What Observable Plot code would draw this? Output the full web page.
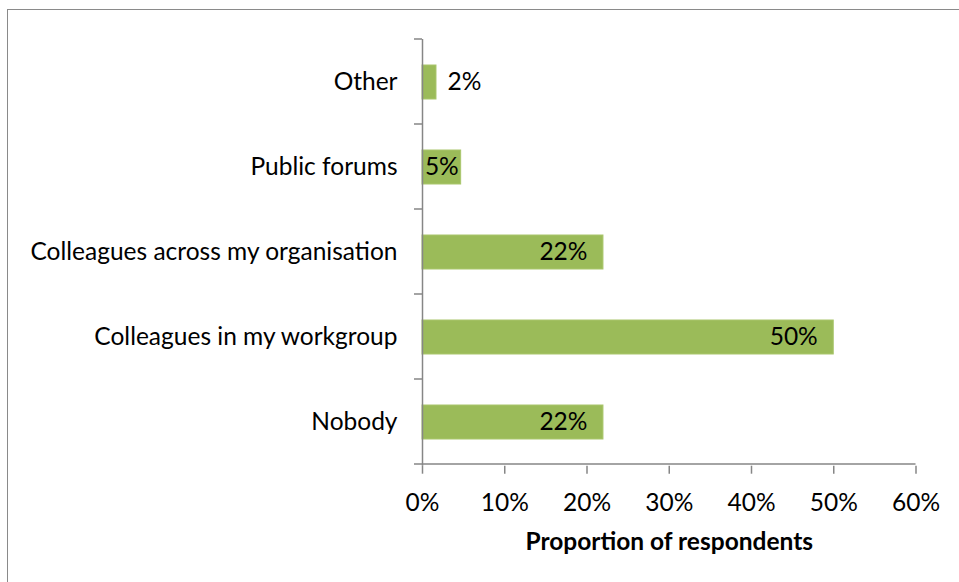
<!DOCTYPE html>
<html>
<head>
<meta charset="utf-8">
<script src="https://cdn.jsdelivr.net/npm/d3@7"></script>
<script src="https://cdn.jsdelivr.net/npm/@observablehq/plot@0.6"></script>
<style>
  html, body { margin: 0; padding: 0; background: #fff; overflow: hidden; }
  #wrap { position: relative; width: 959px; height: 582px; }
  #frame { position: absolute; left: 7px; top: 9px; width: 2000px; height: 2000px;
           border: 1.5px solid #8a8a8a; pointer-events: none; box-sizing: border-box; }
  svg { display: block; }
</style>
</head>
<body>
<div id="wrap"><div id="frame"></div></div>
<script>
const categories = ["Other", "Public forums", "Colleagues across my organisation", "Colleagues in my workgroup", "Nobody"];
const values = [0.017, 0.047, 0.22, 0.50, 0.22];
const xTicks = [0, 0.1, 0.2, 0.3, 0.4, 0.5, 0.6];
const xLabel = "Proportion of respondents";

const data = categories.map((c, i) => ({category: c, value: values[i]}));
const pct = v => Math.round(v * 100) + "%";
const FONT = "Lato, 'Open Sans', sans-serif";
const FS = 24.5;

function bandTicks(index, scales, channels, dims) {
  const y = scales.y, x = scales.x;
  const step = y(categories[1]) - y(categories[0]);
  const top = dims.marginTop;
  const g = d3.create("svg:g").attr("stroke", "#868686").attr("stroke-width", 1.5);
  const x0 = x(0);
  for (let i = 0; i <= categories.length; i++) {
    const yy = top + i * step;
    g.append("line").attr("x1", x0 - 8).attr("x2", x0).attr("y1", yy).attr("y2", yy);
  }
  const yb = top + categories.length * step;
  g.append("line").attr("x1", x0).attr("x2", x(xTicks[xTicks.length - 1])).attr("y1", yb).attr("y2", yb);
  return g.node();
}

const chart = Plot.plot({
  width: 959,
  height: 582,
  marginLeft: 422,
  marginRight: 43.5,
  marginTop: 39,
  marginBottom: 116.3,
  style: {fontFamily: FONT, fontSize: FS + "px", color: "#000", background: "transparent"},
  x: {domain: [0, 0.6], ticks: xTicks, tickFormat: pct, label: null},
  y: {domain: categories, paddingInner: 0.6, paddingOuter: 0.3, label: null},
  marks: [
    Plot.barX(data, {x: "value", y: "category", fill: "#9BBB59", stroke: "#A9C66C", strokeWidth: 1}),
    Plot.ruleX([0], {stroke: "#868686", strokeWidth: 1.5}),
    bandTicks,
    Plot.axisY({tickSize: 0, tickPadding: 25, fontSize: FS, fill: "#000", label: null}),
    Plot.axisX({ticks: xTicks, tickFormat: pct, tickSize: 8, stroke: "#868686", strokeWidth: 1.5, tickPadding: 19, fontSize: FS, fill: "#000", label: null}),
    Plot.text([xLabel], {frameAnchor: "bottom", dy: 84, fontWeight: "bold", fontSize: FS, fill: "#000"}),
    Plot.text(data.filter(d => d.value >= 0.1), {x: "value", y: "category", text: d => pct(d.value), textAnchor: "end", dx: -16, fill: "#000", fontSize: FS}),
    Plot.text(data.filter(d => d.value >= 0.03 && d.value < 0.1), {x: d => d.value / 2, y: "category", text: d => pct(d.value), textAnchor: "middle", fill: "#000", fontSize: FS}),
    Plot.text(data.filter(d => d.value < 0.03), {x: "value", y: "category", text: d => pct(d.value), textAnchor: "start", dx: 11, fill: "#000", fontSize: FS})
  ]
});
document.getElementById("wrap").prepend(chart);
</script>
</body>
</html>
